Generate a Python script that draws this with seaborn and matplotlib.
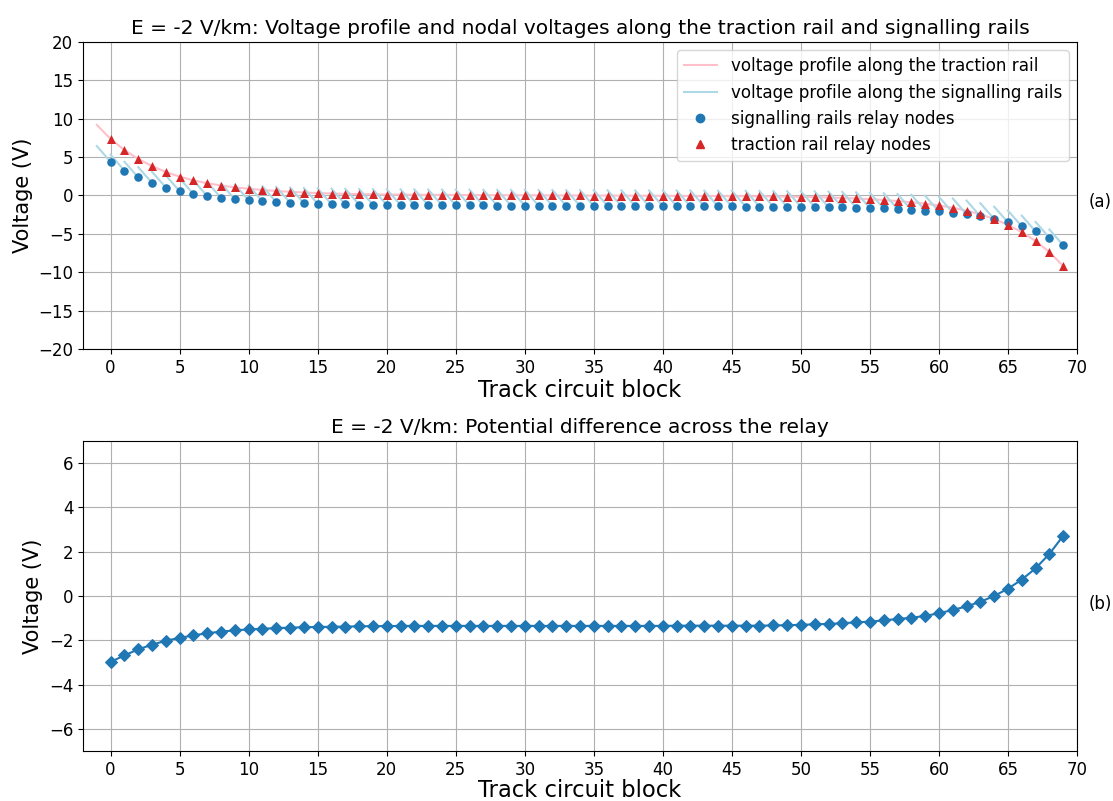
import matplotlib
matplotlib.use("Agg")
import matplotlib.pyplot as plt
import numpy as np
import pandas as pd
import seaborn as sns
from matplotlib.lines import Line2D

plt.rcParams['font.family'] = ['DejaVu Sans']

# ---------------- data ----------------
blocks = list(range(70))

# traction rail profile: value at x = -1 then at each relay node 0..69
traction_start = 9.20
traction_nodes = [7.36, 5.93, 4.76, 3.84, 3.06, 2.45, 1.97, 1.60, 1.30, 1.06,
                  0.88, 0.72, 0.59, 0.48, 0.39, 0.32, 0.26, 0.22, 0.18, 0.15,
                  0.13, 0.11, 0.10, 0.09, 0.08, 0.07, 0.06, 0.05, 0.04, 0.04,
                  0.03, 0.02, 0.01, 0.01, 0.00, -0.01, -0.01, -0.02, -0.03, -0.04,
                  -0.04, -0.05, -0.06, -0.07, -0.08, -0.09, -0.10, -0.11, -0.13, -0.15,
                  -0.18, -0.22, -0.26, -0.32, -0.39, -0.48, -0.59, -0.72, -0.88, -1.06,
                  -1.30, -1.60, -1.97, -2.45, -3.06, -3.84, -4.76, -5.93, -7.36, -9.20]

# signalling rail relay node voltages
signal_nodes = [4.38, 3.25, 2.35, 1.64, 1.04, 0.56, 0.19, -0.08, -0.31, -0.49,
                -0.63, -0.76, -0.86, -0.95, -1.02, -1.08, -1.13, -1.16, -1.19, -1.21,
                -1.23, -1.24, -1.25, -1.26, -1.27, -1.28, -1.29, -1.30, -1.31, -1.31,
                -1.32, -1.33, -1.34, -1.34, -1.35, -1.36, -1.36, -1.37, -1.38, -1.39,
                -1.39, -1.39, -1.40, -1.41, -1.42, -1.43, -1.44, -1.45, -1.46, -1.47,
                -1.48, -1.50, -1.52, -1.55, -1.58, -1.64, -1.69, -1.76, -1.86, -1.96,
                -2.08, -2.23, -2.44, -2.71, -3.06, -3.51, -4.02, -4.68, -5.50, -6.48]

# signalling rail profile of each block: value at the block start (x = i-1)
signal_seg_start = [6.45, 5.30, 4.40, 3.69, 3.09, 2.61, 2.24, 1.97, 1.74, 1.56,
                    1.42, 1.29, 1.19, 1.10, 1.03, 0.97, 0.92, 0.89, 0.86, 0.84,
                    0.82, 0.81, 0.80, 0.79, 0.78, 0.77, 0.76, 0.75, 0.74, 0.74,
                    0.73, 0.72, 0.71, 0.71, 0.70, 0.69, 0.69, 0.68, 0.67, 0.66,
                    0.66, 0.66, 0.65, 0.64, 0.63, 0.62, 0.61, 0.60, 0.59, 0.58,
                    0.57, 0.55, 0.53, 0.50, 0.47, 0.41, 0.36, 0.29, 0.19, 0.09,
                    -0.03, -0.18, -0.39, -0.66, -1.01, -1.46, -1.97, -2.63, -3.45, -4.43]

# potential difference across the relay
relay_diff = [-2.98, -2.68, -2.41, -2.20, -2.02, -1.89, -1.78, -1.68, -1.61, -1.55,
              -1.51, -1.48, -1.45, -1.43, -1.41, -1.40, -1.39, -1.38, -1.37, -1.36,
              -1.36, -1.35, -1.35, -1.35, -1.35, -1.35, -1.35, -1.35, -1.35, -1.35,
              -1.35, -1.35, -1.35, -1.35, -1.35, -1.35, -1.35, -1.35, -1.35, -1.35,
              -1.35, -1.34, -1.34, -1.34, -1.34, -1.34, -1.34, -1.34, -1.33, -1.32,
              -1.30, -1.28, -1.26, -1.23, -1.19, -1.16, -1.10, -1.04, -0.98, -0.90,
              -0.78, -0.63, -0.47, -0.26, 0.00, 0.33, 0.74, 1.25, 1.90, 2.72]

x_ticks = [0, 5, 10, 15, 20, 25, 30, 35, 40, 45, 50, 55, 60, 65, 70]
title_a = "E = -2 V/km: Voltage profile and nodal voltages along the traction rail and signalling rails"
title_b = "E = -2 V/km: Potential difference across the relay"

# ---------------- tables ----------------
trac_df = pd.DataFrame({"x": [-1] + blocks, "v": [traction_start] + traction_nodes})
seg_rows = []
for b, v0, v1 in zip(blocks, signal_seg_start, signal_nodes):
    seg_rows.append({"block": b, "x": b - 1, "v": v0})
    seg_rows.append({"block": b, "x": b, "v": v1})
seg_df = pd.DataFrame(seg_rows)
node_df = pd.DataFrame({"block": blocks, "signal": signal_nodes,
                        "traction": traction_nodes, "diff": relay_diff})

# ---------------- figure ----------------
W, H = 1113, 801
fig = plt.figure(figsize=(W / 100, H / 100), dpi=100)
ax1 = fig.add_axes([83 / W, 1 - 349 / H, 994 / W, 307 / H])
ax2 = fig.add_axes([83 / W, 1 - 751 / H, 994 / W, 310 / H])

pink = "pink"
lblue = "lightblue"
tblue = "#1f77b4"
tred = "#d62728"

sns.lineplot(data=trac_df, x="x", y="v", color=pink, lw=1.5, ax=ax1, zorder=2)
sns.lineplot(data=seg_df, x="x", y="v", units="block", estimator=None, sort=False,
             color=lblue, lw=1.5, ax=ax1, zorder=2)
sns.scatterplot(data=node_df, x="block", y="signal", marker="o", color=tblue,
                s=38, linewidth=0, ax=ax1, zorder=3)
sns.scatterplot(data=node_df, x="block", y="traction", marker="^", color=tred,
                s=42, linewidth=0, ax=ax1, zorder=4)

ax1.set_xlim(-2, 70)
ax1.set_ylim(-20, 20)
ax1.set_xticks(x_ticks)
ax1.set_yticks([-20, -15, -10, -5, 0, 5, 10, 15, 20])
ax1.grid(True, color="#b0b0b0", lw=0.8)
ax1.set_axisbelow(True)
ax1.set_title(title_a, fontsize=14.5)
ax1.set_xlabel("Track circuit block", fontsize=16.3, labelpad=2)
ax1.set_ylabel("Voltage (V)", fontsize=15)
ax1.tick_params(labelsize=12)
handles = [Line2D([], [], color=pink, lw=1.5),
           Line2D([], [], color=lblue, lw=1.5),
           Line2D([], [], color=tblue, marker="o", ls="none", markersize=6),
           Line2D([], [], color=tred, marker="^", ls="none", markersize=6)]
labels = ["voltage profile along the traction rail",
          "voltage profile along the signalling rails",
          "signalling rails relay nodes",
          "traction rail relay nodes"]
ax1.legend(handles, labels, loc="upper right", fontsize=12.1)
ax1.text(1.012, 0.479, "(a)", transform=ax1.transAxes, fontsize=12,
         ha="left", va="center")

sns.lineplot(data=node_df, x="block", y="diff", marker="D", markersize=6.5,
             color=tblue, markeredgecolor=tblue, lw=1.5, ax=ax2)
ax2.set_xlim(-2, 70)
ax2.set_ylim(-7, 7)
ax2.set_xticks(x_ticks)
ax2.set_yticks([-6, -4, -2, 0, 2, 4, 6])
ax2.grid(True, color="#b0b0b0", lw=0.8)
ax2.set_axisbelow(True)
ax2.set_title(title_b, fontsize=14.5)
ax2.set_xlabel("Track circuit block", fontsize=16.3, labelpad=0)
ax2.set_ylabel("Voltage (V)", fontsize=15)
ax2.tick_params(labelsize=12)
ax2.text(1.012, 0.474, "(b)", transform=ax2.transAxes, fontsize=12,
         ha="left", va="center")

fig.savefig("out.png", dpi=100)
